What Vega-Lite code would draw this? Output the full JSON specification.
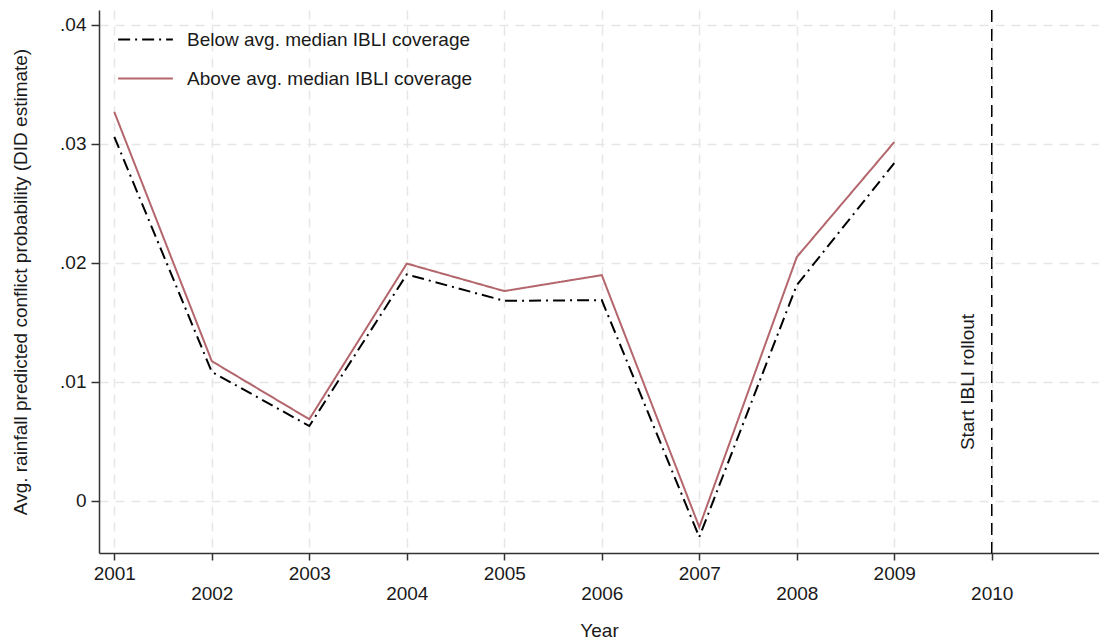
{
  "$schema": "https://vega.github.io/schema/vega-lite/v6.json",
  "width": 1000,
  "height": 543,
  "autosize": "none",
  "padding": {"left": 99, "top": 10, "right": 0, "bottom": 87},
  "background": "white",
  "config": {
    "font": "Liberation Sans",
    "view": {"stroke": null},
    "axis": {
      "domainColor": "#333333",
      "domainWidth": 1.5,
      "tickColor": "#333333",
      "tickWidth": 1.5,
      "labelColor": "#1a1a1a",
      "titleColor": "#1a1a1a",
      "labelFontSize": 19,
      "titleFontSize": 19,
      "titleFontWeight": "normal",
      "gridColor": "#e6e6e6",
      "gridDash": [9, 7],
      "gridWidth": 1.5
    }
  },
  "layer": [
    {
      "data": {
        "values": [
          {"year": 2001, "series": "Below avg. median IBLI coverage", "est": 0.0306},
          {"year": 2002, "series": "Below avg. median IBLI coverage", "est": 0.01085},
          {"year": 2003, "series": "Below avg. median IBLI coverage", "est": 0.0063},
          {"year": 2004, "series": "Below avg. median IBLI coverage", "est": 0.01904},
          {"year": 2005, "series": "Below avg. median IBLI coverage", "est": 0.01682},
          {"year": 2006, "series": "Below avg. median IBLI coverage", "est": 0.01688},
          {"year": 2007, "series": "Below avg. median IBLI coverage", "est": -0.00303},
          {"year": 2008, "series": "Below avg. median IBLI coverage", "est": 0.01814},
          {"year": 2009, "series": "Below avg. median IBLI coverage", "est": 0.02839},
          {"year": 2001, "series": "Above avg. median IBLI coverage", "est": 0.03269},
          {"year": 2002, "series": "Above avg. median IBLI coverage", "est": 0.01175},
          {"year": 2003, "series": "Above avg. median IBLI coverage", "est": 0.00687},
          {"year": 2004, "series": "Above avg. median IBLI coverage", "est": 0.01995},
          {"year": 2005, "series": "Above avg. median IBLI coverage", "est": 0.01764},
          {"year": 2006, "series": "Above avg. median IBLI coverage", "est": 0.01898},
          {"year": 2007, "series": "Above avg. median IBLI coverage", "est": -0.00219},
          {"year": 2008, "series": "Above avg. median IBLI coverage", "est": 0.0205},
          {"year": 2009, "series": "Above avg. median IBLI coverage", "est": 0.03016}
        ]
      },
      "mark": {"type": "line", "strokeWidth": 2},
      "encoding": {
        "x": {
          "field": "year",
          "type": "quantitative",
          "scale": {"domain": [2000.843, 2011.1], "nice": false, "zero": false},
          "axis": {
            "title": "Year",
            "values": [2001, 2002, 2003, 2004, 2005, 2006, 2007, 2008, 2009, 2010],
            "format": "d",
            "grid": true,
            "tickSize": 7,
            "labelPadding": {"condition": {"test": "datum.value % 2 == 0", "value": 24}, "value": 4},
            "labelFlush": false,
            "labelOverlap": false,
            "titleY": 68,
            "titleBaseline": "top"
          }
        },
        "y": {
          "field": "est",
          "type": "quantitative",
          "scale": {"domain": [-0.00437, 0.04126], "nice": false, "zero": false},
          "axis": {
            "title": "Avg. rainfall predicted conflict probability (DID estimate)",
            "values": [0, 0.01, 0.02, 0.03, 0.04],
            "labelExpr": "datum.value == 0 ? '0' : replace(format(datum.value, '.2f'), '0.', '.')",
            "grid": true,
            "tickSize": 8,
            "labelPadding": 5,
            "titlePadding": 29
          }
        },
        "color": {
          "field": "series",
          "type": "nominal",
          "scale": {
            "domain": ["Below avg. median IBLI coverage", "Above avg. median IBLI coverage"],
            "range": ["#000000", "#b3666c"]
          },
          "legend": {
            "title": null,
            "orient": "none",
            "legendX": 18,
            "legendY": 1,
            "symbolType": "stroke",
            "symbolSize": 3000,
            "symbolStrokeWidth": 2,
            "labelFontSize": 19,
            "labelColor": "#1a1a1a",
            "labelOffset": 13,
            "labelLimit": 400,
            "rowPadding": -36
          }
        },
        "strokeDash": {
          "field": "series",
          "type": "nominal",
          "scale": {
            "domain": ["Below avg. median IBLI coverage", "Above avg. median IBLI coverage"],
            "range": [[12, 5, 2, 5], [1, 0]]
          },
          "legend": {
            "title": null,
            "orient": "none",
            "legendX": 18,
            "legendY": 1,
            "symbolType": "stroke",
            "symbolSize": 3000,
            "symbolStrokeWidth": 2,
            "labelFontSize": 19,
            "labelColor": "#1a1a1a",
            "labelOffset": 13,
            "labelLimit": 400,
            "rowPadding": -36
          }
        }
      }
    },
    {
      "data": {"values": [{"year": 2010, "label": "Start IBLI rollout", "pos": 0.01}]},
      "mark": {"type": "rule", "color": "#000000", "strokeWidth": 1.5, "strokeDash": [12, 7]},
      "encoding": {
        "x": {"field": "year", "type": "quantitative"}
      }
    },
    {
      "data": {"values": [{"year": 2010, "label": "Start IBLI rollout", "pos": 0.01}]},
      "mark": {
        "type": "text",
        "angle": 270,
        "align": "center",
        "baseline": "middle",
        "dy": -24,
        "fontSize": 19,
        "color": "#1a1a1a"
      },
      "encoding": {
        "x": {"field": "year", "type": "quantitative"},
        "y": {"field": "pos", "type": "quantitative"},
        "text": {"field": "label"}
      }
    }
  ]
}
